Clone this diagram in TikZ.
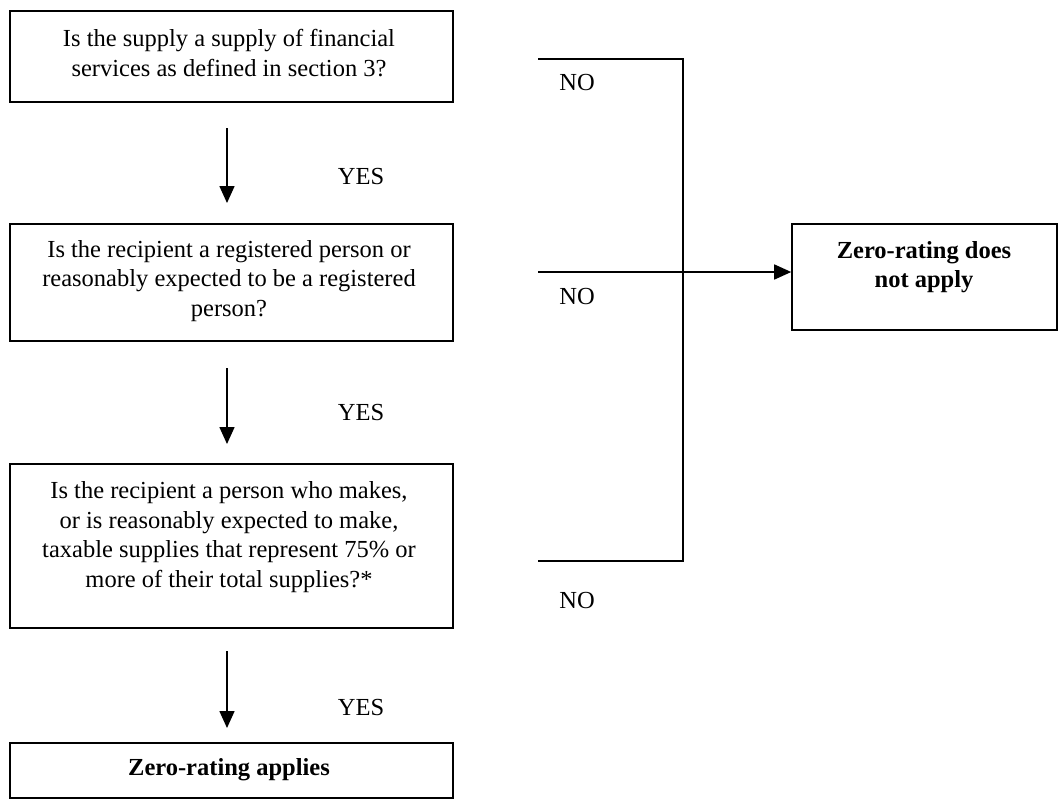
\documentclass[tikz,border=0pt]{standalone}
\usepackage{fontspec}
\setmainfont{Liberation Serif}
\usetikzlibrary{arrows.meta}
\begin{document}
\begin{tikzpicture}[x=1pt,y=-1pt,
  box/.style={draw, line width=1.6pt, inner sep=0pt},
  txt/.style={align=center, font=\fontsize{24.5}{29.5}\selectfont, inner sep=0pt},
  lbl/.style={font=\fontsize{24.5}{29.5}\selectfont, inner sep=0pt},
  conn/.style={line width=1.6pt},
  arr/.style={line width=1.6pt, -{Triangle[length=17pt,width=15pt]}}]
\useasboundingbox (0,0) rectangle (1061,801);

% boxes
\node[box, minimum width=443pt, minimum height=91pt]  (b1) at (231.5,56.5) {};
\node[box, minimum width=443pt, minimum height=117pt] (b2) at (231.5,282.5) {};
\node[box, minimum width=443pt, minimum height=164pt] (b3) at (231.5,546) {};
\node[box, minimum width=443pt, minimum height=55pt]  (b4) at (231.5,770.5) {};
\node[box, minimum width=265pt, minimum height=106pt] (br) at (924.5,277) {};

% texts
\node[txt] (t1) at (229,53) {Is the supply a supply of financial\\services as defined in section 3?};
\node[txt] (t2) at (229,281) {Is the recipient a registered person or\\reasonably expected to be a registered\\person?};
\node[txt] (t3) at (229,537) {Is the recipient a person who makes,\\or is reasonably expected to make,\\taxable supplies that represent 75\% or\\more of their total supplies?*};
\node[txt] (t4) at (229,770) {\bfseries Zero-rating applies};
\node[txt] (tr) at (924,267) {\bfseries Zero-rating does\\\bfseries not apply};

% labels
\node[lbl] (y1) at (361,177) {YES};
\node[lbl] (y2) at (361,413) {YES};
\node[lbl] (y3) at (361,707) {YES};
\node[lbl] (no1) at (577,83) {NO};
\node[lbl] (no2) at (577,297) {NO};
\node[lbl] (no3) at (577,600) {NO};

% down arrows
\coordinate (a1s) at (227,128); \coordinate (a1e) at (227,203);
\coordinate (a2s) at (227,368); \coordinate (a2e) at (227,444);
\coordinate (a3s) at (227,651); \coordinate (a3e) at (227,728);
\draw[arr] (a1s) -- (a1e);
\draw[arr] (a2s) -- (a2e);
\draw[arr] (a3s) -- (a3e);

% NO connectors
\coordinate (n1s) at (538,59);  \coordinate (n1c) at (683,59);
\coordinate (n3s) at (538,561); \coordinate (n3c) at (683,561);
\coordinate (n2s) at (538,272);
\draw[conn] (n1s) -- (n1c) -- (n3c) -- (n3s);
\draw[arr] (n2s) -- (br.west |- n2s);
\end{tikzpicture}
\end{document}
